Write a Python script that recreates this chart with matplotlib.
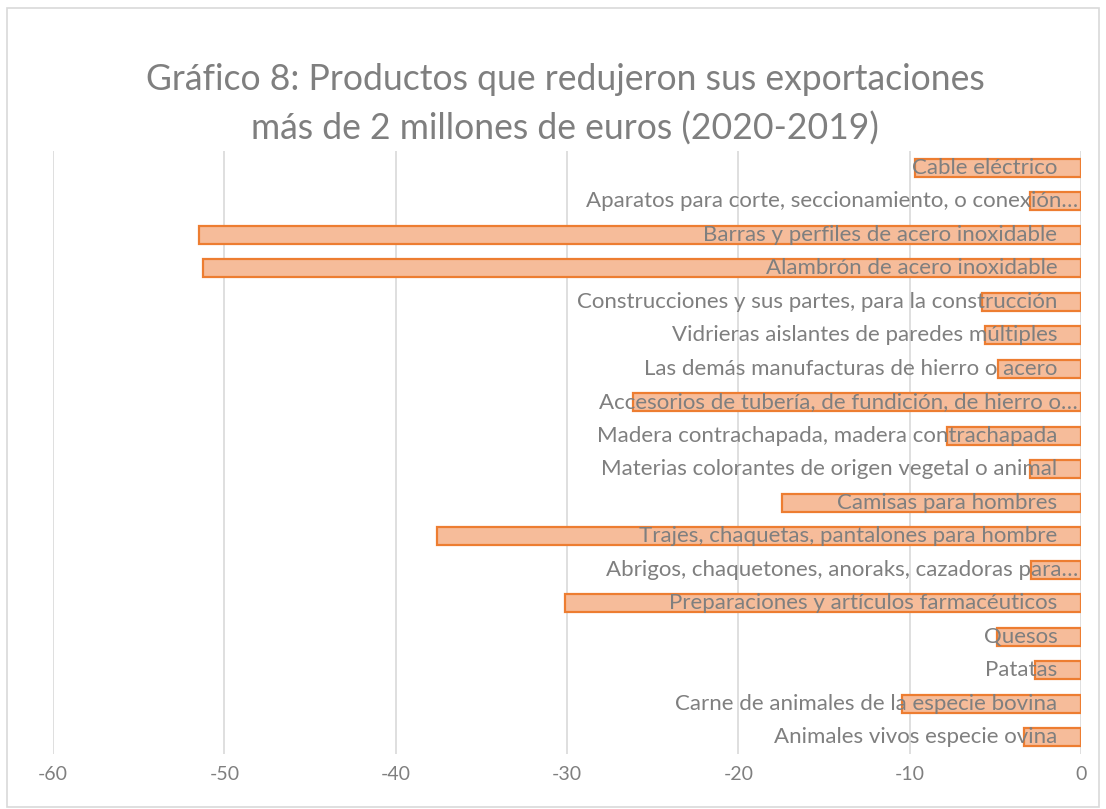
import matplotlib
matplotlib.use('Agg')
import matplotlib.pyplot as plt
from matplotlib.patches import Rectangle

plt.rcParams['font.family'] = ['Lato', 'DejaVu Sans']

# categorias de arriba a abajo
productos = [
    'Cable eléctrico',
    'Aparatos para corte, seccionamiento, o conexión…',
    'Barras y perfiles de acero inoxidable',
    'Alambrón de acero inoxidable',
    'Construcciones y sus partes, para la construcción',
    'Vidrieras aislantes de paredes múltiples',
    'Las demás manufacturas de hierro o acero',
    'Accesorios de tubería, de fundición, de hierro o…',
    'Madera contrachapada, madera contrachapada',
    'Materias colorantes de origen vegetal o animal',
    'Camisas para hombres',
    'Trajes, chaquetas, pantalones para hombre',
    'Abrigos, chaquetones, anoraks, cazadoras para…',
    'Preparaciones y artículos farmacéuticos',
    'Quesos',
    'Patatas',
    'Carne de animales de la especie bovina',
    'Animales vivos especie ovina',
]
variacion = [-9.7, -3.0, -51.5, -51.25, -5.8, -5.6, -4.85, -26.15, -7.8,
             -3.0, -17.45, -37.6, -2.9, -30.1, -4.9, -2.7, -10.45, -3.35]
ticks = [-60, -50, -40, -30, -20, -10, 0]

gris = '#7f7f7f'

fig = plt.figure(figsize=(11.06, 8.09), dpi=100)
fig.patches.append(Rectangle((7 / 1106, 2 / 809), 1092 / 1106, 799 / 809,
                             transform=fig.transFigure, fill=False,
                             edgecolor='#d9d9d9', linewidth=1.2))
ax = fig.add_axes([53 / 1106, 55 / 809, 1028 / 1106, 603 / 809])

y = list(range(len(productos)))
ax.barh(y, variacion, height=0.55, color='#f6bc9a', edgecolor='#ed7d31',
        linewidth=1.6, zorder=2)

for yi, txt in zip(y, productos):
    off = -2 if txt.endswith('…') else -17
    ax.annotate(txt, xy=(0, yi), xytext=(off, 0), textcoords='offset points',
                ha='right', va='center', fontsize=16, color=gris, zorder=3)

ax.set_xlim(-60, 0)
ax.set_ylim(len(productos) - 0.5, -0.5)
ax.set_xticks(ticks)
ax.set_xticklabels([str(t) for t in ticks], fontsize=14, color=gris)
ax.set_yticks([])
ax.tick_params(axis='x', length=0, pad=9)
ax.grid(axis='x', color='#d9d9d9', linewidth=1.2, zorder=0)
ax.set_axisbelow(True)
for s in ax.spines.values():
    s.set_visible(False)

fig.text(0.511, 1 - 104 / 809, 'Gráfico 8: Productos que redujeron sus exportaciones\n'
         'más de 2 millones de euros (2020-2019)',
         ha='center', va='center', fontsize=25.6, color=gris, linespacing=1.55)

fig.savefig('out.png', dpi=100)
